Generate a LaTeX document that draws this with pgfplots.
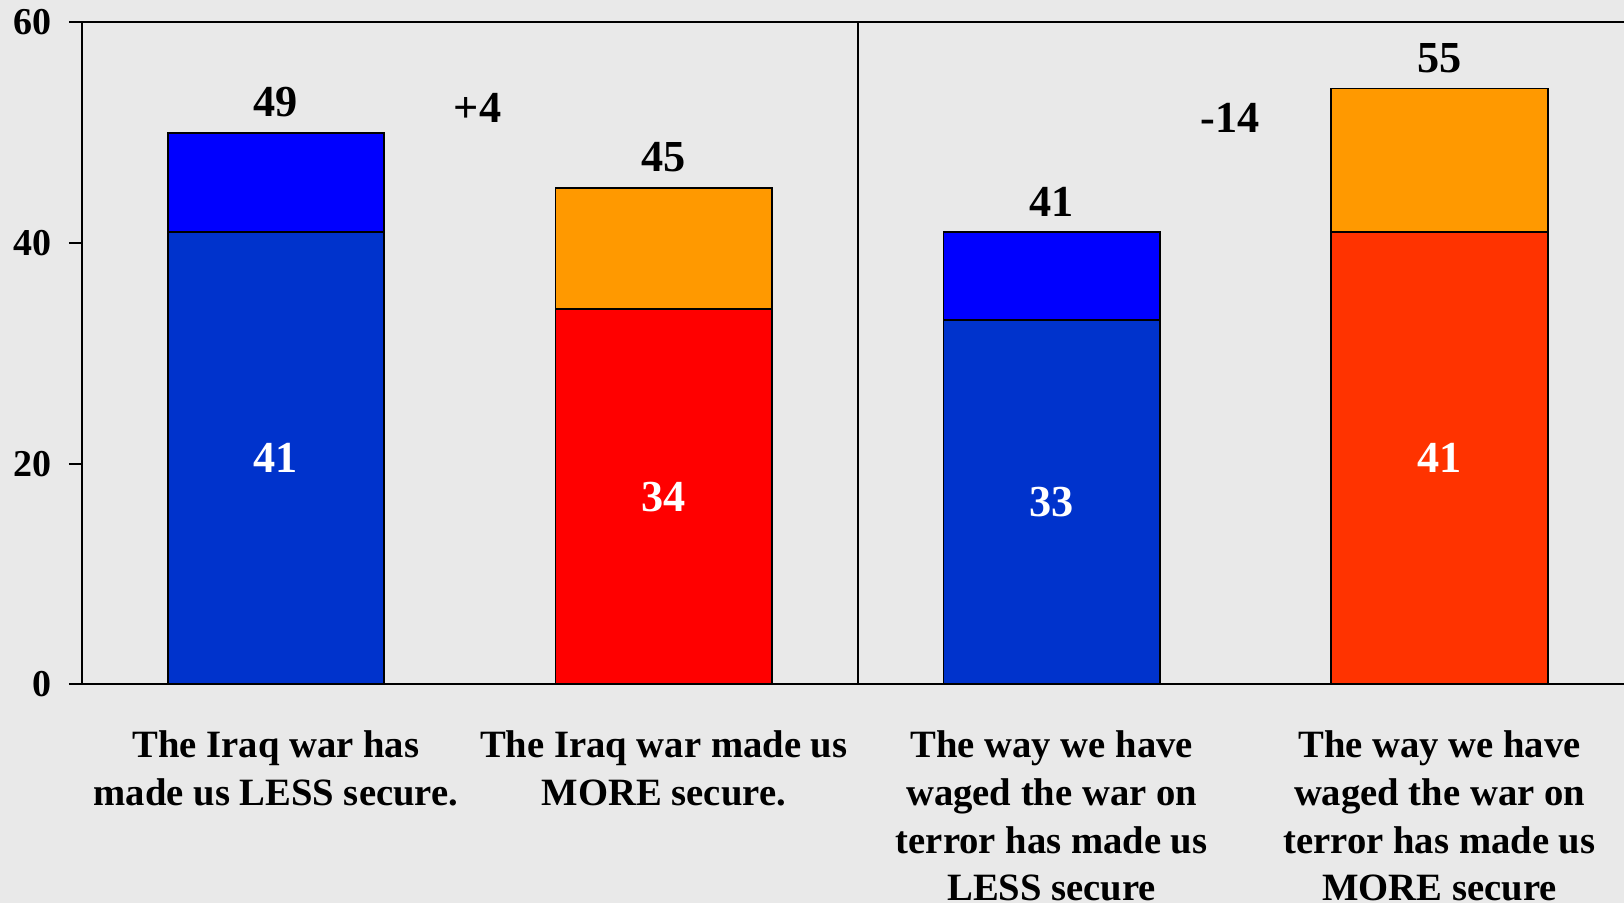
\documentclass[border=0pt]{standalone}
\usepackage{fontspec}
\setmainfont{Liberation Serif}
\usepackage{pgfplots}
\pgfplotsset{compat=1.18}

\definecolor{bgc}{HTML}{E9E9E9}
\definecolor{blueLow}{HTML}{0033CC}
\definecolor{blueTop}{HTML}{0000FF}
\definecolor{redLow}{HTML}{FF0000}
\definecolor{redLowB}{HTML}{FF3300}
\definecolor{orangeTop}{HTML}{FF9900}

\begin{document}
\begin{tikzpicture}
\fill[bgc] (0,0) rectangle (162.4mm,90.3mm);
\path[use as bounding box] (0,0) rectangle (162.4mm,90.3mm);
\begin{axis}[
  at={(8.2mm,21.87mm)}, anchor=south west,
  scale only axis,
  width=155.15mm, height=66.2mm,
  xmin=0, xmax=4, ymin=0, ymax=60,
  axis line style={line width=0.6pt},
  ytick={0,20,40,60},
  xtick={0.5,1.5,2.5,3.5},
  xticklabels={{The Iraq war has\\made us LESS secure.},
               {The Iraq war made us\\MORE secure.},
               {The way we have\\waged the war on\\terror has made us\\LESS secure},
               {The way we have\\waged the war on\\terror has made us\\MORE secure}},
  major x tick style={draw=none},
  extra x ticks={0,1,2,3,4},
  extra x tick labels={},
  extra x tick style={major tick length=3.5pt, tick align=outside, tick style={line width=0.5pt, black}},
  tick align=outside,
  major tick length=3.7pt,
  ytick pos=left, xtick pos=bottom,
  tick style={line width=0.6pt, black},
  /pgf/number format/assume math mode=true,
  yticklabel style={font=\bfseries\fontsize{10.8}{12}\selectfont, xshift=-1.5pt},
  xticklabel style={font=\bfseries\fontsize{11}{13.57}\selectfont, align=center, anchor=north, yshift=-6pt},
  every node near coord/.append style={font=\bfseries\fontsize{12.6}{14}\selectfont},
  clip=false,
]
% tops (totals)
\addplot[ybar, bar shift=0pt, bar width=0.558, fill=blueTop, draw=black, line width=0.5pt,
  nodes near coords, point meta=explicit symbolic,
  every node near coord/.append style={yshift=0.8pt}] coordinates {(0.5,50) [49] (2.5,41) [41]};
\addplot[ybar, bar shift=0pt, bar width=0.558, fill=orangeTop, draw=black, line width=0.5pt,
  nodes near coords, point meta=explicit symbolic,
  every node near coord/.append style={yshift=0.8pt}] coordinates {(1.5,45) [45] (3.5,54) [55]};
% lower segments
\addplot[ybar, bar shift=0pt, bar width=0.558, fill=blueLow, draw=black, line width=0.5pt]
  coordinates {(0.5,41) (2.5,33)};
\addplot[ybar, bar shift=0pt, bar width=0.558, fill=redLow, draw=black, line width=0.5pt]
  coordinates {(1.5,34)};
\addplot[ybar, bar shift=0pt, bar width=0.558, fill=redLowB, draw=black, line width=0.5pt]
  coordinates {(3.5,41)};
% labels inside the lower segments
\addplot[only marks, mark=none, nodes near coords, point meta=explicit symbolic,
  every node near coord/.append style={white, anchor=center}]
  coordinates {(0.5,20.5) [41] (1.5,17) [34] (2.5,16.5) [33] (3.5,20.5) [41]};
% differences
\addplot[only marks, mark=none, nodes near coords, point meta=explicit symbolic,
  every node near coord/.append style={anchor=center}]
  coordinates {(1.02,52.2) [+4] (2.96,51.3) [-14]};
% divider
\draw[line width=0.5pt] (axis cs:2,0) -- (axis cs:2,60);
\end{axis}
\end{tikzpicture}
\end{document}
